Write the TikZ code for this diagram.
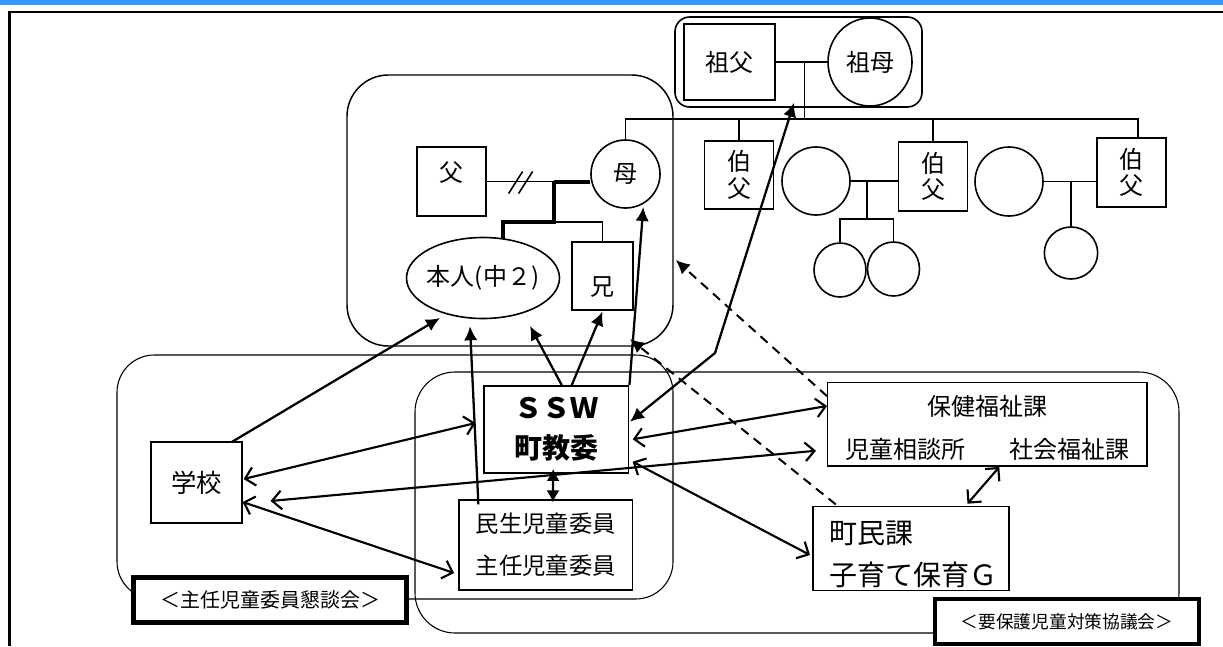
\documentclass[tikz,border=0pt]{standalone}
\usepackage{fontspec}
\newfontfamily\jp{Noto Sans CJK JP}
\usetikzlibrary{shapes.geometric,arrows.meta,calc}
\definecolor{barblue}{RGB}{51,153,255}
\begin{document}
\begin{tikzpicture}[x=0.75pt,y=-0.75pt,
  font=\jp\fontsize{18}{20}\selectfont,
  box/.style={draw,line width=0.9pt,rectangle,inner sep=0pt},
  circ/.style={draw,line width=1.2pt,ellipse,inner sep=0pt},
  fam/.style={line width=1.2pt},
  famthick/.style={line width=3pt},
  grp/.style={draw,line width=0.8pt,rectangle,inner sep=0pt},
  tag/.style={draw,fill=white,line width=3.2pt,inner sep=0pt},
  arr/.style={line width=1.7pt,-{Latex[length=10.5pt,width=10pt]}},
  arrr/.style={line width=1.7pt,{Latex[length=10.5pt,width=10pt]}-{Latex[length=10.5pt,width=10pt]}},
  arrs/.style={line width=1.7pt,{Latex[length=9pt,width=10pt]}-{Latex[length=9pt,width=10pt]}},
  barb/.style={line width=1.6pt,{Straight Barb[length=7pt,width=14pt]}-{Straight Barb[length=7pt,width=14pt]}},
  dsh/.style={line width=1.5pt,dash pattern=on 7pt off 5pt,-{Latex[length=10.5pt,width=10pt]}}
]
\useasboundingbox (0,0) rectangle (1223,646);
\fill[barblue] (0,0) rectangle (1223,5);
\draw[line width=2.2pt] (9.5,646) -- (9.5,12) -- (1223,12);

% group boxes
\node[grp,rounded corners=31pt,minimum width=244.5pt,minimum height=203.25pt,line width=1.1pt] (kazoku) at (510,210.5) {};
\node[grp,rounded corners=11pt,minimum width=185.25pt,minimum height=67.5pt,line width=1.2pt] (gp) at (798.5,62) {};
\node[grp,rounded corners=28pt,minimum width=417pt,minimum height=183pt] (boxA) at (395,477) {};
\node[grp,rounded corners=30pt,minimum width=573pt,minimum height=195.75pt] (boxB) at (797,502.5) {};

% family
\node[box,minimum width=51.75pt,minimum height=51.75pt,label={[yshift=7pt]center:父}] (fu) at (451.5,181.5) {};
\node[circ,minimum width=51.75pt,minimum height=51pt] (haha) at (625.5,174) {母};
\node[circ,minimum width=114.75pt,minimum height=60.75pt,label=center:{本人(中２)}] (honnin) at (483,278) {};
\node[box,minimum width=45.75pt,minimum height=51pt,label={[yshift=-8pt]center:兄}] (ani) at (602.5,276) {};
\node[box,minimum width=68.25pt,minimum height=57pt] (sofu) at (729.5,62) {祖父};
\node[circ,minimum width=63pt,minimum height=66pt] (sobo) at (870,62) {祖母};
\node[box,minimum width=51.75pt,minimum height=51pt,align=center] (oji1) at (739,175) {伯\\父};
\node[circ,minimum width=51pt,minimum height=51pt] (sp1) at (816,181) {};
\node[box,minimum width=51.4pt,minimum height=51.75pt,align=center] (oji2) at (933,176.5) {伯\\父};
\node[circ,minimum width=51pt,minimum height=51.75pt] (sp2) at (1009,181.5) {};
\node[box,minimum width=51.75pt,minimum height=51.75pt,align=center] (oji3) at (1131.5,172.5) {伯\\父};
\node[circ,minimum width=39pt,minimum height=40.5pt] (ch1) at (840,270) {};
\node[circ,minimum width=39pt,minimum height=40.5pt] (ch2) at (893.5,269) {};
\node[circ,minimum width=40pt,minimum height=39pt] (ch3) at (1071,253) {};

% parents and children
\coordinate (pm) at ($(fu.east)+(67.5,0)$);
\draw[fam] (fu.east) -- (pm);
\draw[famthick] (pm) -- (pm -| haha.west);
\draw[fam] ($(fu.east)+(22,12)$) -- ++(14,-22);
\draw[fam] ($(fu.east)+(32,12)$) -- ++(14,-22);
\coordinate (kid) at ($(pm)+(0,40.5)$);
\draw[fam] (kid) -| (ani.north);
\draw[famthick] (pm) -- (kid) -| ($(honnin.north)+(20,2)$);

% grandparents and siblings
\draw[fam] (sofu.east) -- (sofu.east -| sobo.west);
\coordinate (gpd) at ($(sofu.east)+(29,0)$);
\coordinate (sib) at ($(gpd)+(0,57)$);
\draw[fam] (gpd) -- (sib);
\coordinate (o3d) at ($(oji3.north)+(6.5,0)$);
\draw[fam] (haha.north) -- (haha.north |- sib) -- (o3d |- sib) -- (o3d);
\draw[fam] (oji1.north) -- (oji1.north |- sib);
\draw[fam] (oji2.north) -- (oji2.north |- sib);

% uncle families
\draw[fam] (sp1.east) -- (sp1.east -| oji2.west);
\coordinate (c1) at ($(sp1.east)+(16,0)$);
\coordinate (c1b) at ($(c1)+(0,38)$);
\draw[fam] (c1) -- (c1b);
\draw[fam] (ch1.north) -- (ch1.north |- c1b) -- (ch2.north |- c1b) -- (ch2.north);
\draw[fam] (sp2.east) -- (sp2.east -| oji3.west);
\draw[fam] (sp2.east -| ch3.north) -- (ch3.north);

% lower nodes
\node[box,minimum width=68.25pt,minimum height=60.75pt,font=\jp\fontsize{19}{22}\selectfont] (gakko) at (196.5,482.5) {学校};
\node[box,line width=1.4pt,minimum width=108.4pt,minimum height=65.25pt,align=center,font=\jp\bfseries\fontsize{21}{30}\selectfont] (ssw) at (556.25,429.5) {ＳＳＷ\\町教委};
\node[box,minimum width=130.3pt,minimum height=67.5pt,align=center,font=\jp\fontsize{17.5}{31.5}\selectfont] (minsei) at (545.85,545) {民生児童委員\\主任児童委員};
\node[box,minimum width=239.6pt,minimum height=62.5pt] (hoken) at (987.3,424.35) {};
\node (hk1) at ($(hoken.north)+(0,24.5)$) {保健福祉課};
\node (hk2) at ($(hoken.south west)+(78.4,-17)$) {児童相談所};
\node (hk3) at ($(hoken.south east)+(-78,-17)$) {社会福祉課};
\node[box,minimum width=147pt,minimum height=63pt] (chomin) at (911,548.7) {};
\node[anchor=west,inner sep=0pt,font=\jp\fontsize{21}{24}\selectfont] (cm1) at ($(chomin.west)+(17,-15.7)$) {町民課};
\node[anchor=west,inner sep=0pt,font=\jp\fontsize{21}{24}\selectfont] (cm2) at ($(chomin.west)+(17,26.3)$) {子育て保育Ｇ};

\node[tag,minimum width=204.75pt,minimum height=33.75pt,font=\jp\fontsize{15}{18}\selectfont] (tagA) at (270,600) {＜主任児童委員懇談会＞};
\node[tag,minimum width=198pt,minimum height=33.75pt,font=\jp\fontsize{13.3}{16}\selectfont] (tagB) at (1067,621.5) {＜要保護児童対策協議会＞};

% arrows
\draw[arr] ($(gakko.north east)+(-11,0.7)$) -- ($(honnin.center)+(-43,40)$);
\draw[barb] ($(gakko.east)+(1,-3.5)$) -- ($(ssw.west)+(-7.5,-6.5)$);
\draw[barb] ($(gakko.east)+(28,18.5)$) -- ($(hoken.west)+(-11,26.4)$);
\draw[barb] ($(gakko.east)+(0,19.5)$) -- ($(minsei.west)+(-4.3,28)$);
\draw[arr] ($(minsei.north west)+(20,5)$) -- ($(honnin.south)+(-13,7)$);
\draw[arrs] ($(ssw.south)+(-3,-5)$) -- ($(minsei.north)+(7,3)$);
\draw[arr] ($(ssw.north)+(5.5,0)$) -- ($(honnin.center)+(47,48)$);
\draw[arr] ($(ssw.north)+(15.5,0)$) -- ($(ani.south)+(0,1)$);
\draw[arr] (ssw.north east) -- ($(haha.center)+(17.8,33)$);
\coordinate (bend) at (715,353);
\draw[arrr] ($(ssw.east)+(0.5,-7.8)$) -- (bend) -- ($(gp.south)+(-4.5,-5)$);
\draw[barb] ($(ssw.east)+(3.3,9.8)$) -- ($(hoken.west)+(0,-18.35)$);
\draw[barb] ($(ssw.east)+(3.2,32.2)$) -- ($(chomin.west)+(-2.4,6.3)$);
\draw[barb] ($(hoken.south)+(12,0.3)$) -- ($(chomin.north)+(56.5,-2.4)$);
\draw[dsh] ($(hoken.north west)+(0,14)$) -- ($(kazoku.east)+(2,49.5)$);
\draw[dsh] ($(chomin.north west)+(23.4,-1.7)$) -- ($(kazoku.south east)+(-43.7,-7.7)$);
\end{tikzpicture}
\end{document}
